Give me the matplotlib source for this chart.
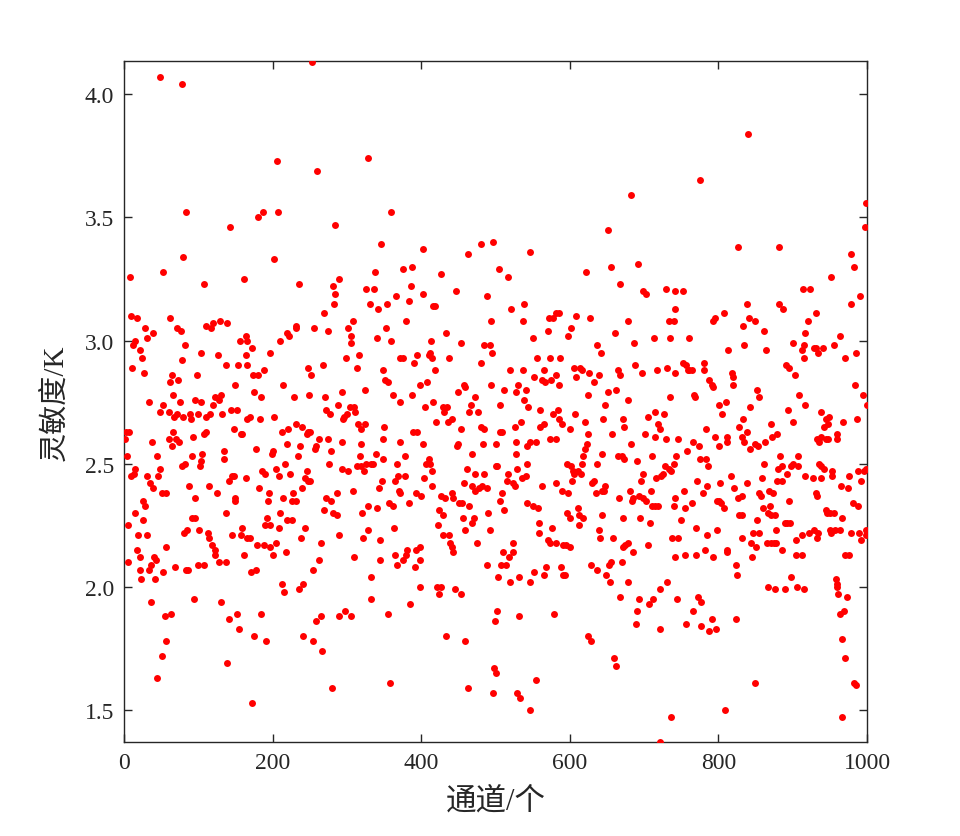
import matplotlib
matplotlib.use("Agg")
import matplotlib.pyplot as plt
from matplotlib.ticker import FormatStrFormatter

# (channel, sensitivity) pairs
pairs = [
# 0-85
(48,4.07),(78,4.04),(83,3.52),(80,3.34),(53,3.28),(8,3.26),(9,3.10),(18,3.09),(62,3.09),(28,3.05),(72,3.05),(77,3.04),
(39,3.03),(31,3.01),(15,3.00),(82,2.98),(12,2.98),(22,2.96),(24,2.93),(78,2.92),(11,2.89),(27,2.87),(64,2.86),(62,2.83),
(73,2.84),(66,2.78),(75,2.75),(34,2.75),(52,2.74),(48,2.71),(61,2.71),(71,2.70),(80,2.69),(67,2.69),(7,2.63),(3,2.63),
(1,2.60),(60,2.60),(66,2.63),(70,2.60),(74,2.59),(65,2.57),(38,2.59),(4,2.53),(44,2.53),(78,2.49),(82,2.50),(15,2.48),
(13,2.46),(10,2.45),(48,2.48),(31,2.45),(46,2.45),(35,2.42),(39,2.40),(51,2.38),(57,2.38),(26,2.35),(28,2.33),(15,2.30),
(25,2.27),(6,2.25),(19,2.21),(31,2.21),(81,2.22),(18,2.15),(21,2.12),(6,2.10),(40,2.12),(43,2.11),(57,2.16),(37,2.09),
(33,2.07),(22,2.07),(53,2.06),(69,2.08),(84,2.07),(23,2.03),(42,2.03),(36,1.94),(55,1.88),(63,1.89),(57,1.78),(51,1.72),
(45,1.63),
# 85-170
(143,3.46),(161,3.25),(108,3.23),(110,3.06),(120,3.07),(117,3.05),(129,3.08),(139,3.07),(156,3.00),(164,3.02),(165,3.00),
(103,2.95),(126,2.94),(164,2.94),(137,2.90),(153,2.90),(166,2.90),(98,2.86),(149,2.82),(96,2.76),(103,2.75),(123,2.77),
(131,2.78),(120,2.74),(128,2.76),(144,2.72),(152,2.72),(132,2.70),(89,2.70),(100,2.70),(111,2.69),(116,2.70),(90,2.68),
(166,2.68),(148,2.64),(157,2.62),(159,2.62),(111,2.63),(108,2.62),(93,2.61),(91,2.53),(105,2.54),(102,2.49),(104,2.51),
(134,2.55),(135,2.52),(164,2.44),(146,2.45),(141,2.43),(148,2.45),(114,2.41),(125,2.38),(88,2.41),(95,2.36),(149,2.36),
(150,2.35),(137,2.30),(92,2.28),(96,2.28),(85,2.23),(101,2.23),(113,2.22),(114,2.20),(119,2.17),(122,2.15),(123,2.13),
(128,2.10),(137,2.10),(146,2.21),(158,2.21),(159,2.24),(166,2.20),(162,2.13),(107,2.09),(99,2.09),(86,2.07),(94,1.95),
(130,1.94),(152,1.89),(141,1.87),(155,1.83),(138,1.69),
# 170-250
(206,3.73),(181,3.50),(187,3.52),(207,3.52),(202,3.33),(235,3.23),(210,3.00),(220,3.03),(222,3.02),(231,3.05),(232,3.06),
(172,2.97),(196,2.95),(247,2.89),(174,2.86),(180,2.86),(189,2.88),(214,2.82),(229,2.77),(249,2.78),(175,2.79),(184,2.77),
(169,2.69),(183,2.68),(202,2.69),(213,2.63),(221,2.64),(231,2.66),(240,2.65),(246,2.62),(248,2.63),(177,2.56),(200,2.55),
(199,2.54),(219,2.58),(237,2.57),(234,2.53),(217,2.50),(204,2.48),(209,2.45),(186,2.47),(190,2.46),(223,2.46),(244,2.44),
(246,2.47),(247,2.43),(182,2.40),(195,2.38),(240,2.40),(227,2.38),(194,2.35),(214,2.36),(226,2.35),(231,2.35),(210,2.30),
(193,2.28),(190,2.25),(196,2.25),(209,2.24),(220,2.27),(226,2.27),(243,2.24),(238,2.20),(170,2.20),(179,2.17),(188,2.17),
(196,2.16),(205,2.18),(200,2.13),(218,2.14),(171,2.06),(178,2.07),(213,2.01),(216,1.98),(235,1.99),(241,2.01),(184,1.89),
(175,1.80),(191,1.78),(241,1.80),(172,1.53),
# 250-335
(253,4.13),(328,3.74),(260,3.69),(284,3.47),(289,3.25),(281,3.22),(284,3.19),(283,3.15),(326,3.21),(331,3.15),(269,3.11),
(256,3.05),(275,3.04),(308,3.08),(302,3.05),(305,3.02),(306,2.99),(299,2.93),(316,2.94),(314,2.89),(268,2.90),(252,2.86),
(271,2.77),(293,2.79),(324,2.80),(272,2.72),(277,2.70),(288,2.74),(304,2.73),(310,2.73),(296,2.69),(295,2.68),(300,2.70),
(311,2.71),(315,2.66),(319,2.64),(324,2.66),(251,2.63),(262,2.60),(259,2.57),(257,2.56),(274,2.60),(293,2.59),(319,2.58),
(278,2.55),(276,2.50),(317,2.53),(293,2.48),(301,2.47),(314,2.49),(319,2.49),(323,2.47),(326,2.50),(332,2.50),(251,2.43),
(287,2.38),(308,2.39),(272,2.36),(278,2.35),(269,2.31),(281,2.30),(287,2.29),(329,2.33),(320,2.30),(329,2.23),(321,2.20),
(290,2.21),(265,2.18),(262,2.11),(254,2.07),(310,2.12),(332,2.04),(332,1.95),(298,1.90),(306,1.88),(289,1.88),(265,1.88),
(258,1.86),(254,1.78),(267,1.74),(280,1.59),
# 335-420
(360,3.52),(346,3.39),(402,3.37),(338,3.28),(376,3.29),(387,3.30),(386,3.22),(337,3.21),(366,3.18),(403,3.19),(354,3.15),
(383,3.16),(416,3.14),(342,3.13),(353,3.05),(380,3.08),(340,3.01),(359,3.00),(413,3.00),(372,2.93),(375,2.93),(390,2.91),
(395,2.94),(410,2.94),(412,2.95),(415,2.93),(349,2.88),(351,2.84),(355,2.83),(362,2.78),(371,2.75),(387,2.78),(398,2.82),
(408,2.83),(416,2.75),(405,2.73),(350,2.65),(389,2.63),(395,2.63),(348,2.60),(402,2.58),(372,2.59),(339,2.54),(335,2.50),
(349,2.52),(368,2.50),(378,2.53),(406,2.50),(411,2.52),(414,2.47),(412,2.50),(365,2.43),(369,2.45),(378,2.45),(347,2.43),
(343,2.40),(370,2.39),(372,2.38),(393,2.38),(400,2.37),(404,2.44),(415,2.41),(384,2.34),(356,2.34),(362,2.33),(340,2.32),
(363,2.24),(344,2.19),(365,2.13),(381,2.15),(393,2.15),(398,2.16),(345,2.11),(367,2.09),(375,2.11),(380,2.13),(392,2.08),
(399,2.11),(399,2.00),(385,1.93),(355,1.89),(358,1.61),
# 420-500
(481,3.39),(496,3.40),(463,3.35),(426,3.27),(447,3.20),(419,3.14),(489,3.18),(494,3.08),(433,3.03),(454,2.99),(484,2.98),
(493,2.98),(495,2.95),(437,2.93),(480,2.91),(419,2.88),(494,2.82),(457,2.82),(459,2.81),(450,2.79),(472,2.77),(467,2.74),
(429,2.73),(435,2.73),(431,2.71),(465,2.71),(476,2.71),(420,2.67),(436,2.67),(441,2.68),(453,2.64),(480,2.65),(484,2.64),
(483,2.58),(450,2.58),(448,2.57),(500,2.58),(469,2.54),(500,2.49),(462,2.48),(473,2.46),(484,2.46),(457,2.42),(469,2.41),
(472,2.39),(478,2.40),(482,2.41),(489,2.40),(426,2.37),(432,2.36),(442,2.38),(443,2.36),(451,2.34),(455,2.34),(464,2.33),
(490,2.30),(424,2.31),(430,2.29),(456,2.28),(471,2.28),(469,2.26),(423,2.25),(459,2.23),(492,2.23),(429,2.21),(437,2.21),
(439,2.18),(442,2.16),(443,2.14),(475,2.18),(489,2.09),(421,2.00),(427,2.00),(424,1.97),(446,1.99),(453,1.97),(433,1.80),
(459,1.78),(499,1.86),(498,1.67),(463,1.59),(497,1.57),
# 500-585
(546,3.36),(505,3.29),(517,3.26),(521,3.13),(538,3.15),(537,3.08),(572,3.09),(578,3.09),(581,3.11),(570,3.04),(551,3.01),
(556,2.93),(574,2.93),(520,2.88),(537,2.88),(565,2.88),(552,2.85),(562,2.84),(567,2.83),(575,2.84),(581,2.86),(530,2.82),
(511,2.80),(541,2.80),(528,2.79),(538,2.76),(506,2.74),(544,2.73),(560,2.72),(584,2.72),(578,2.70),(534,2.67),(565,2.66),
(560,2.65),(509,2.63),(506,2.63),(526,2.65),(547,2.59),(554,2.59),(573,2.60),(581,2.60),(527,2.59),(543,2.57),(527,2.54),
(502,2.49),(517,2.46),(515,2.43),(523,2.42),(526,2.41),(529,2.48),(536,2.44),(541,2.45),(543,2.50),(562,2.41),(581,2.42),
(509,2.38),(506,2.35),(512,2.31),(543,2.34),(550,2.33),(557,2.32),(559,2.26),(559,2.22),(571,2.19),(576,2.24),(581,2.18),
(573,2.18),(524,2.18),(524,2.14),(510,2.14),(518,2.12),(514,2.09),(507,2.09),(503,2.04),(520,2.02),(532,2.04),(546,2.02),
(552,2.06),(565,2.05),(568,2.08),(502,1.90),(531,1.88),(579,1.89),(500,1.65),(529,1.57),(533,1.55),(554,1.62),(546,1.50),
# 585-670
(652,3.45),(622,3.28),(656,3.30),(667,3.23),(586,3.11),(608,3.10),(627,3.09),(661,3.03),(602,3.05),(597,3.02),(636,2.98),
(642,2.95),(587,2.93),(605,2.89),(614,2.89),(617,2.88),(608,2.85),(626,2.87),(633,2.83),(639,2.86),(665,2.88),(667,2.86),
(585,2.82),(651,2.79),(662,2.80),(625,2.78),(648,2.74),(585,2.68),(590,2.66),(600,2.64),(607,2.70),(621,2.67),(625,2.62),
(645,2.68),(657,2.62),(623,2.58),(620,2.56),(644,2.54),(637,2.50),(665,2.53),(618,2.53),(617,2.50),(596,2.50),(602,2.49),
(604,2.47),(606,2.46),(611,2.47),(615,2.46),(589,2.39),(597,2.38),(603,2.43),(632,2.43),(630,2.42),(635,2.38),(643,2.39),
(646,2.39),(648,2.41),(666,2.36),(643,2.29),(611,2.32),(613,2.29),(618,2.28),(596,2.30),(600,2.28),(612,2.25),(639,2.23),
(641,2.20),(591,2.17),(595,2.17),(600,2.16),(658,2.20),(653,2.09),(656,2.10),(629,2.09),(636,2.07),(649,2.05),(588,2.08),
(591,2.05),(594,2.05),(654,2.02),(667,1.96),(624,1.80),(629,1.78),(659,1.71),(662,1.68),
# 670-750
(683,3.59),(692,3.31),(699,3.20),(703,3.19),(729,3.21),(742,3.20),(741,3.13),(740,3.08),(678,3.08),(733,3.08),(735,3.01),
(686,2.99),(713,3.01),(688,2.90),(697,2.87),(718,2.88),(731,2.89),(742,2.87),(735,2.77),(679,2.76),(672,2.68),(673,2.65),
(705,2.69),(714,2.71),(727,2.70),(719,2.66),(722,2.64),(715,2.61),(701,2.62),(730,2.60),(746,2.60),(682,2.58),(670,2.53),
(673,2.52),(690,2.51),(710,2.53),(743,2.53),(740,2.50),(728,2.49),(733,2.48),(736,2.47),(725,2.46),(723,2.45),(716,2.44),
(699,2.46),(696,2.43),(709,2.39),(681,2.39),(685,2.36),(684,2.35),(693,2.37),(699,2.36),(702,2.35),(711,2.33),(715,2.33),
(719,2.33),(741,2.36),(740,2.33),(671,2.28),(694,2.28),(708,2.26),(750,2.27),(678,2.18),(674,2.17),(672,2.16),(685,2.14),
(705,2.17),(737,2.20),(746,2.20),(742,2.12),(670,2.10),(678,2.02),(731,2.02),(721,1.99),(712,1.95),(706,1.93),(693,1.95),
(691,1.90),(689,1.85),(744,1.95),(722,1.83),(736,1.47),(721,1.37),
# 750-835
(775,3.65),(827,3.38),(752,3.20),(807,3.11),(793,3.08),(795,3.09),(833,3.06),(761,3.01),(834,2.98),(813,2.96),(780,2.91),
(780,2.88),(753,2.91),(757,2.90),(759,2.88),(761,2.88),(764,2.88),(788,2.84),(791,2.82),(793,2.81),(818,2.87),(820,2.85),
(819,2.82),(767,2.78),(769,2.77),(801,2.74),(810,2.75),(805,2.70),(828,2.65),(833,2.68),(832,2.61),(834,2.59),(812,2.61),
(812,2.59),(783,2.64),(795,2.61),(801,2.57),(766,2.59),(774,2.57),(758,2.55),(775,2.52),(783,2.52),(786,2.49),(817,2.45),
(821,2.40),(802,2.42),(771,2.43),(784,2.41),(779,2.38),(754,2.39),(798,2.35),(801,2.35),(804,2.34),(807,2.32),(832,2.37),
(826,2.36),(765,2.34),(755,2.32),(828,2.29),(832,2.29),(770,2.24),(785,2.21),(798,2.23),(832,2.20),(811,2.15),(812,2.14),
(755,2.13),(770,2.13),(782,2.15),(793,2.12),(824,2.09),(825,2.05),(773,1.96),(777,1.94),(766,1.90),(756,1.85),(777,1.84),
(791,1.87),(788,1.82),(797,1.83),(824,1.87),(809,1.50),
# 835-920
(840,3.84),(882,3.38),(914,3.21),(838,3.15),(881,3.15),(887,3.13),(841,3.09),(849,3.08),(862,3.04),(864,2.96),(917,3.03),
(900,2.99),(915,2.98),(913,2.96),(915,2.93),(891,2.90),(895,2.89),(903,2.86),(852,2.80),(854,2.77),(909,2.78),(916,2.74),
(843,2.73),(894,2.72),(901,2.67),(838,2.63),(871,2.66),(872,2.61),(879,2.62),(843,2.56),(849,2.58),(853,2.57),(863,2.59),
(883,2.53),(862,2.50),(880,2.48),(886,2.49),(892,2.46),(898,2.49),(901,2.50),(907,2.49),(907,2.53),(917,2.45),(859,2.44),
(838,2.42),(879,2.43),(886,2.43),(855,2.38),(858,2.37),(868,2.39),(873,2.38),(895,2.35),(860,2.32),(870,2.33),(867,2.30),
(871,2.29),(876,2.29),(852,2.27),(889,2.26),(892,2.26),(897,2.26),(877,2.23),(855,2.22),(846,2.22),(866,2.18),(871,2.18),
(875,2.18),(877,2.18),(844,2.18),(850,2.16),(904,2.19),(912,2.21),(885,2.15),(913,2.13),(905,2.13),(845,2.12),(898,2.04),
(867,2.00),(876,1.99),(889,1.99),(906,2.00),(915,1.99),(849,1.61),
# 920-1000
(998,3.56),(997,3.46),(978,3.35),(982,3.30),(990,3.18),(951,3.26),(923,3.21),(979,3.15),(932,3.11),(920,3.08),(931,2.97),
(929,2.97),(934,2.95),(941,2.97),(956,2.98),(963,3.02),(985,2.95),(970,2.93),(984,2.82),(994,2.78),(1000,2.74),(938,2.71),
(949,2.69),(945,2.68),(947,2.66),(942,2.65),(986,2.68),(968,2.67),(933,2.60),(935,2.59),(938,2.61),(945,2.60),(948,2.60),
(959,2.62),(960,2.60),(938,2.49),(935,2.50),(942,2.48),(953,2.47),(953,2.45),(927,2.44),(938,2.44),(965,2.41),(974,2.40),
(976,2.45),(988,2.47),(992,2.43),(996,2.47),(998,2.48),(931,2.38),(933,2.37),(945,2.31),(946,2.30),(950,2.30),(955,2.30),
(966,2.28),(981,2.34),(988,2.33),(929,2.23),(922,2.22),(934,2.22),(933,2.20),(950,2.23),(952,2.22),(957,2.23),(964,2.23),
(978,2.22),(989,2.22),(998,2.23),(999,2.21),(992,2.19),(970,2.13),(976,2.13),(958,2.03),(960,2.01),(959,2.00),(961,1.97),
(973,1.96),(969,1.90),(964,1.89),(966,1.79),(971,1.71),(983,1.61),(985,1.60),(966,1.47),
]

channel = [p[0] for p in pairs]
sensitivity = [p[1] for p in pairs]

x_ticks = [0, 200, 400, 600, 800, 1000]
y_ticks = [1.5, 2.0, 2.5, 3.0, 3.5, 4.0]
x_label = "通道/个"
y_label = "灵敏度/K"

axis_color = "#262626"
fam = ["Liberation Serif", "Noto Sans CJK SC"]

fig = plt.figure(figsize=(9.6, 8.37), dpi=100)
ax = fig.add_axes([124/960, 1-743/837, (867-124)/960, (743-62)/837])

ax.scatter(channel, sensitivity, s=25, color="#ff0000", linewidths=0, zorder=3)

ax.set_xlim(0, 1000)
ax.set_ylim(1.37, 4.135)
ax.set_xticks(x_ticks)
ax.set_yticks(y_ticks)
ax.yaxis.set_major_formatter(FormatStrFormatter("%.1f"))
ax.tick_params(direction="in", length=6, width=1, top=True, right=True,
               colors=axis_color, labelsize=17, pad=7)
for lab in ax.get_xticklabels() + ax.get_yticklabels():
    lab.set_fontfamily(fam)
for sp in ax.spines.values():
    sp.set_color(axis_color)
    sp.set_linewidth(1)

ax.set_xlabel(x_label, fontsize=22, family=fam, color=axis_color, labelpad=10)
ax.set_ylabel(y_label, fontsize=21, family=fam, color=axis_color, labelpad=12)

fig.savefig("out.png", dpi=100, facecolor="white")
